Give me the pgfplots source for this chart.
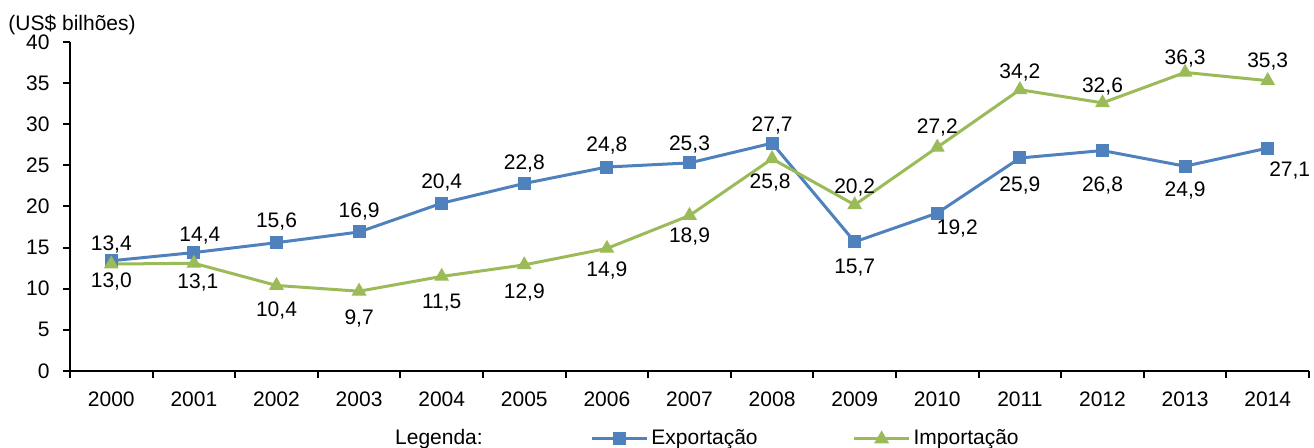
\documentclass[border=0pt]{standalone}
\usepackage{fontspec}
\setmainfont{Liberation Sans}
\usepackage{pgfplots}
\usepackage{pgfplotstable}
\pgfplotsset{compat=1.18}
\definecolor{expblue}{HTML}{4F81BD}
\definecolor{impgreen}{HTML}{9BBB59}

% x, value, dx (pt), dy (pt)
\pgfplotstableread{
x y dx dy
0 13.4 0 8
1 14.4 3 8.5
2 15.6 0 10.5
3 16.9 0 10
4 20.4 0 10.5
5 22.8 0 10
6 24.8 0 11
7 25.3 0 9
8 27.7 0 9
9 15.7 0 -13
10 19.2 10 -7.5
11 25.9 0 -14
12 26.8 0 -17.5
13 24.9 0 -12
14 27.1 11 -11
}\exptable

\pgfplotstableread{
x y dx dy
0 13.0 0 -8.5
1 13.1 2 -9.5
2 10.4 0 -12.5
3 9.7 0 -13.5
4 11.5 0 -13
5 12.9 0 -14
6 14.9 0 -11
7 18.9 0 -10.5
8 25.8 -1 -12
9 20.2 0 8.5
10 27.2 0 10
11 34.2 0 8.5
12 32.6 0 8
13 36.3 0 7
14 35.3 0 9.5
}\imptable

\begin{document}
\fontsize{10.5}{12.6}\selectfont
\begin{tikzpicture}
\begin{axis}[
  scale only axis,
  width=619.5pt, height=164.5pt,
  xmin=-0.5, xmax=14.5,
  ymin=0, ymax=40,
  ytick={0,5,...,40},
  xtick={0,...,14},
  xticklabels={2000,2001,2002,2003,2004,2005,2006,2007,2008,2009,2010,2011,2012,2013,2014},
  minor xtick={-0.5,0.5,...,14.5},
  axis x line*=bottom, axis y line*=left,
  axis line style={line width=1pt, -},
  tick align=outside,
  major tick length=3.5pt,
  minor tick length=3.5pt,
  major x tick style={draw=none},
  every tick/.style={black, line width=1pt},
  every minor tick/.style={black, line width=1pt},
  /pgf/number format/assume math mode=true,
  tick label style={font=\fontsize{10.5}{12.6}\selectfont},
  yticklabel style={xshift=-3pt},
  xticklabel style={yshift=-3pt},
  clip=false,
  nodes near coords,
  point meta=explicit,
  visualization depends on={\thisrow{dx} \as \dx},
  visualization depends on={\thisrow{dy} \as \dy},
  nodes near coords style={
    font=\fontsize{10.5}{12.6}\selectfont, text=black, anchor=center,
    xshift=\dx pt, yshift=\dy pt,
    /pgf/number format/.cd, use comma, fixed, fixed zerofill, precision=1,
    assume math mode=true},
  legend columns=2,
  legend style={draw=none, fill=none, at={(0.4197,-0.2067)}, anchor=west,
    inner sep=0pt, font=\fontsize{10.5}{12.6}\selectfont,
    /tikz/every even column/.append style={column sep=46pt},
    nodes={inner sep=1.5pt}},
  legend image code/.code={\draw[mark repeat=2, mark phase=2, #1] plot coordinates {(0pt,0pt) (13.75pt,0pt) (27.5pt,0pt)};},
]
\addplot[color=expblue, line width=1.5pt, mark=square*, mark size=3pt,
  mark options={solid, fill=expblue, line width=0.5pt}]
  table[x=x, y=y, meta=y] {\exptable};
\addlegendentry{Exportação}
\addplot[color=impgreen, line width=1.5pt, mark=triangle*, mark size=3.8pt,
  mark options={solid, fill=impgreen, line width=0.5pt}]
  table[x=x, y=y, meta=y] {\imptable};
\addlegendentry{Importação}
\node[anchor=west, inner sep=0pt] at (axis description cs:-0.05,1.0517) {(US\$ bilhões)};
\node[anchor=center, inner sep=0pt] at (axis description cs:0.2978,-0.2067) {Legenda:};
\end{axis}
\pgfresetboundingbox
\path[use as bounding box] (-35pt,-38.5pt) rectangle (622pt,185.5pt);
\end{tikzpicture}
\end{document}
